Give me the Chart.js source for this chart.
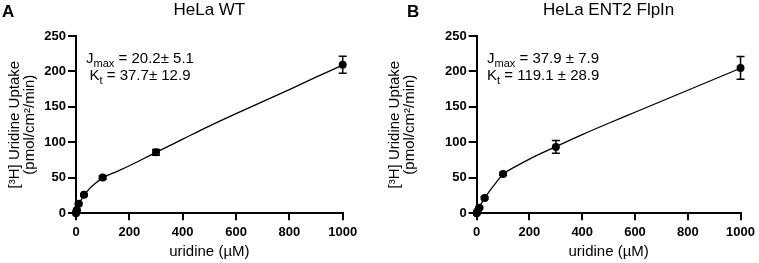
<!DOCTYPE html>
<html><head><meta charset="utf-8">
<script src="https://cdn.jsdelivr.net/npm/chart.js@4"></script>
<style>
html,body{margin:0;padding:0;background:#fff;}
#wrap{position:relative;width:759px;height:263px;overflow:hidden;}
canvas{position:absolute;top:0;}
</style></head><body>
<div id="wrap">
<canvas id="cA" width="380" height="263" style="left:0;width:380px;height:263px"></canvas>
<canvas id="cB" width="379" height="263" style="left:380px;width:379px;height:263px"></canvas>
</div>
<script>
// ---- data ----
const doseX      = [0, 1, 3, 10, 30, 100, 300, 1000];
const uptakeWT   = [0, 1.5, 4.5, 13.5, 26, 50.5, 86, 209.5];
const errWT      = [0, 0.5, 1, 1.5, 1.5, 2, 4, 12];
const uptakeENT2 = [0, 1, 3, 8, 21.5, 55.5, 93.5, 205];
const errENT2    = [0, 0.3, 0.8, 1.2, 1.5, 2, 9, 16];
const fitX       = [0, 1, 3, 10, 20, 30, 50, 75, 100, 150, 200, 300, 400, 500, 600, 700, 800, 900, 1000];
const fitWT      = [0, 1.2, 3.6, 11.5, 19.3, 25.5, 34.5, 43, 50, 58.5, 67, 86, 104.5, 123, 140.5, 157.5, 174.5, 192, 209];
const fitENT2    = [0, 0.9, 2.6, 8.5, 15.5, 21.5, 32, 44, 55, 66.5, 76.5, 94, 111, 127, 142.5, 158, 173.5, 189, 204.5];
const xTicks     = [0, 200, 400, 600, 800, 1000];
const yTicks     = [0, 50, 100, 150, 200, 250];
const panelTitles  = ['HeLa WT', 'HeLa ENT2 FlpIn'];
const panelLetters = ['A', 'B'];
const jmaxText     = ['= 20.2\u00B1 5.1', '= 37.9 \u00B1 7.9'];
const ktText       = ['= 37.7\u00B1 12.9', '= 119.1 \u00B1 28.9'];
const xTitle = 'uridine (\u00B5M)';
const yTitle = ['[\u00B3H] Uridine Uptake', '(pmol/cm\u00B2/min)'];

const FF = '"Liberation Sans", Arial, Helvetica, sans-serif';

function drawSubText(ctx, main, sub, rest, x, y, align) {
  ctx.font = '15px ' + FF; const w1 = ctx.measureText(main).width;
  ctx.font = '11px ' + FF; const w2 = ctx.measureText(sub).width;
  ctx.font = '15px ' + FF; const w3 = ctx.measureText(' ' + rest).width;
  const total = w1 + w2 + w3;
  const sx = align === 'center' ? x - total / 2 : x;
  ctx.textBaseline = 'alphabetic'; ctx.textAlign = 'left'; ctx.fillStyle = '#000';
  ctx.font = '15px ' + FF; ctx.fillText(main, sx, y);
  ctx.font = '11px ' + FF; ctx.fillText(sub, sx + w1, y + 4);
  ctx.font = '15px ' + FF; ctx.fillText(' ' + rest, sx + w1 + w2, y);
}

function makePlugin(i, ys_, es_, annot) {
  return {
    id: 'deco' + i,
    afterDatasetsDraw(chart) {
      const ctx = chart.ctx, xs = chart.scales.x, ys = chart.scales.y;
      ctx.save(); ctx.strokeStyle = '#000'; ctx.lineWidth = 1.5;
      doseX.forEach((x, k) => {
        const e = es_[k]; if (!e) return;
        const px = xs.getPixelForValue(x);
        const y1 = ys.getPixelForValue(ys_[k] + e), y2 = ys.getPixelForValue(ys_[k] - e);
        ctx.beginPath();
        ctx.moveTo(px, y1); ctx.lineTo(px, y2);
        ctx.moveTo(px - 4, y1); ctx.lineTo(px + 4, y1);
        ctx.moveTo(px - 4, y2); ctx.lineTo(px + 4, y2);
        ctx.stroke();
      });
      ctx.restore();
    },
    afterDraw(chart) {
      const ctx = chart.ctx, ca = chart.chartArea;
      ctx.save();
      ctx.fillStyle = '#000';
      ctx.textBaseline = 'alphabetic';
      ctx.font = '17px ' + FF; ctx.textAlign = 'center';
      ctx.fillText(panelTitles[i], (ca.left + ca.right) / 2, 15);
      ctx.font = 'bold 17px ' + FF; ctx.textAlign = 'left';
      ctx.fillText(panelLetters[i], annot.lx, 16.5);
      drawSubText(ctx, 'J', 'max', jmaxText[i], annot.x, 63, annot.align);
      drawSubText(ctx, 'K', 't', ktText[i], annot.x, 80, annot.align);
      ctx.restore();
    }
  };
}

function makeChart(id, i, ys_, es_, fit, yWidth, rightPad, annot) {
  const tickFont = { family: FF, size: 13, weight: 'bold' };
  new Chart(document.getElementById(id), {
    type: 'scatter',
    data: {
      datasets: [
        { data: fitX.map((x, k) => ({ x: x, y: fit[k] })), showLine: true, borderColor: '#000',
          borderWidth: 1.3, pointRadius: 0, cubicInterpolationMode: 'monotone', fill: false, clip: false },
        { data: doseX.map((x, k) => ({ x: x, y: ys_[k] })), showLine: false, pointRadius: 4,
          pointBackgroundColor: '#000', pointBorderColor: '#000', pointBorderWidth: 0, clip: false }
      ]
    },
    options: {
      responsive: false, animation: false, devicePixelRatio: 1,
      layout: { padding: { top: 36, right: rightPad, left: 0, bottom: 0 } },
      plugins: { legend: { display: false }, tooltip: { enabled: false } },
      scales: {
        x: {
          type: 'linear', min: 0, max: 1000,
          afterBuildTicks: s => { s.ticks = xTicks.map(v => ({ value: v })); },
          afterFit: s => { s.height = 49.7; },
          ticks: { font: tickFont, color: '#000', padding: 4, maxRotation: 0, autoSkip: false, callback: v => String(v) },
          grid: { drawOnChartArea: false, drawTicks: true, tickLength: 7, color: '#000', lineWidth: 2 },
          border: { color: '#000', width: 2 },
          title: { display: true, text: xTitle, color: '#000', font: { family: FF, size: 15 }, padding: { top: 0, bottom: 2 } }
        },
        y: {
          type: 'linear', min: 0, max: 250,
          afterBuildTicks: s => { s.ticks = yTicks.map(v => ({ value: v })); },
          afterFit: s => { s.width = yWidth; },
          ticks: { font: tickFont, color: '#000', padding: 2, autoSkip: false, callback: v => String(v) },
          grid: { drawOnChartArea: false, drawTicks: true, tickLength: 8, color: '#000', lineWidth: 2 },
          border: { color: '#000', width: 2 },
          title: { display: true, text: yTitle, color: '#000', font: { family: FF, size: 15, lineHeight: 1.0 }, padding: { top: 7.5, bottom: 0 } }
        }
      }
    },
    plugins: [makePlugin(i, ys_, es_, annot)]
  });
}

makeChart('cA', 0, uptakeWT, errWT, fitWT, 76, 37.3, { x: 140, align: 'center', lx: 2 });
makeChart('cB', 1, uptakeENT2, errENT2, fitENT2, 96.7, 15.7, { x: 107, align: 'left', lx: 27 });
</script>
</body></html>
